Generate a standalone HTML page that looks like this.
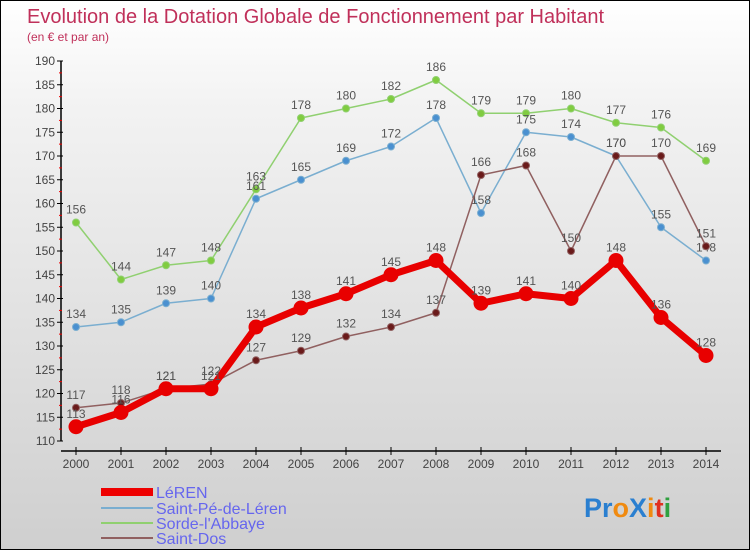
<!DOCTYPE html>
<html><head><meta charset="utf-8"><style>
body{margin:0}
#c{position:relative;width:748px;height:548px;border:1px solid #000;background:linear-gradient(#ffffff,#f2f2f2 20%,#cfcfcf);font-family:"Liberation Sans",sans-serif;overflow:hidden}
</style></head><body>
<div id="c">
<svg id="s" width="748" height="548" xmlns="http://www.w3.org/2000/svg">
<text x="26" y="22" font-size="20" fill="#c0305a">Evolution de la Dotation Globale de Fonctionnement par Habitant</text>
<text x="26" y="40" font-size="12" fill="#c0305a">(en € et par an)</text>
<g id="axes"></g><g id="series"></g>
<g>
<line x1="100" y1="491" x2="152" y2="491" stroke="#e00" stroke-width="8"/>
<text x="155" y="497" font-size="16" fill="#6666ee">LéREN</text>
<line x1="100" y1="507" x2="152" y2="507" stroke="#7aaed0" stroke-width="2"/>
<text x="155" y="513" font-size="16" fill="#6666ee">Saint-Pé-de-Léren</text>
<line x1="100" y1="522" x2="152" y2="522" stroke="#90d070" stroke-width="2"/>
<text x="155" y="528" font-size="16" fill="#6666ee">Sorde-l'Abbaye</text>
<line x1="100" y1="537" x2="152" y2="537" stroke="#906060" stroke-width="2"/>
<text x="155" y="543" font-size="16" fill="#6666ee">Saint-Dos</text>
</g>
<text x="583" y="516" font-size="27" font-weight="bold"><tspan fill="#2a7fd0">Pr</tspan><tspan fill="#f08a10">o</tspan><tspan fill="#2a7fd0">X</tspan><tspan fill="#f08a10">i</tspan><tspan fill="#e03020">t</tspan><tspan fill="#30a040">i</tspan></text>
</svg>
</div>
<script>
const years=[2000,2001,2002,2003,2004,2005,2006,2007,2008,2009,2010,2011,2012,2013,2014];
const leren=[113,116,121,121,134,138,141,145,148,139,141,140,148,136,128];
const saintPe=[134,135,139,140,161,165,169,172,178,158,175,174,170,155,148];
const sorde=[156,144,147,148,163,178,180,182,186,179,179,180,177,176,169];
const saintDos=[117,118,121,122,127,129,132,134,137,166,168,150,170,170,151];
const yTicks=[110,115,120,125,130,135,140,145,150,155,160,165,170,175,180,185,190];
const NS="http://www.w3.org/2000/svg";
function xS(i){return 75+i*45;}
function yS(v){return 440-(v-110)*4.75;}
function mk(t,a,p){const e=document.createElementNS(NS,t);for(const k in a)e.setAttribute(k,a[k]);p.appendChild(e);return e;}
const ax=document.getElementById('axes');
let yl=mk('line',{x1:60,y1:yS(190),x2:60,y2:yS(110),stroke:'#000','stroke-width':1.5},ax);


let xl=mk('line',{x1:60,y1:450,x2:720,y2:450,stroke:'#000','stroke-width':1.5},ax);


yTicks.forEach((v,k)=>{
 mk('line',{x1:56,y1:yS(v),x2:62,y2:yS(v),stroke:'#000'},ax);
 if(k<yTicks.length-1) mk('line',{x1:58,y1:yS(v+2.5),x2:61,y2:yS(v+2.5),stroke:'#e00'},ax);
 const t=mk('text',{x:54,y:yS(v)+4,'font-size':12,fill:'#444','text-anchor':'end'},ax);t.textContent=v;
 
 
});
years.forEach((y,i)=>{
 mk('line',{x1:xS(i),y1:446,x2:xS(i),y2:454,stroke:'#000'},ax);
 const t=mk('text',{x:xS(i),y:467,'font-size':12,fill:'#444','text-anchor':'middle'},ax);t.textContent=y;
 
 
});
const sg=document.getElementById('series');
function draw(vals,color,w,r,name,dotc){
 const g=mk('g',{},sg);
 
 
 mk('polyline',{points:vals.map((v,i)=>xS(i)+','+yS(v)).join(' '),fill:'none',stroke:color,'stroke-width':w,'stroke-linejoin':'round'},g);
 vals.forEach((v,i)=>{
  const c=mk('circle',{cx:xS(i),cy:yS(v),r:r,fill:dotc,stroke:color,'stroke-width':1},g);
  
  
  const t=mk('text',{x:xS(i),y:yS(v)-9,'font-size':12,fill:'#555','text-anchor':'middle'},g);t.textContent=v;
 });
}
draw(sorde,'#90d070',1.5,3.5,'sorde','#80cc40');
draw(saintPe,'#7aaed0',1.5,3.5,'saint-pe','#4a90d0');
draw(saintDos,'#906060',1.5,3.5,'saint-dos','#6a1a1a');
draw(leren,'#e80000',7,7,'leren','#e80000');
</script>
</body></html>
